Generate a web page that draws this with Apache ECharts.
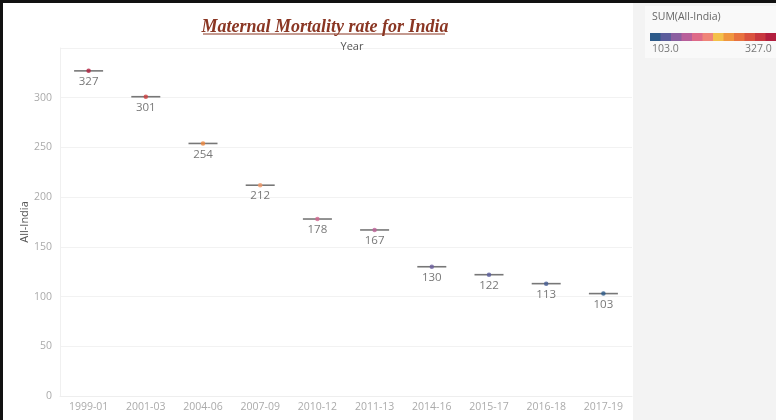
<!DOCTYPE html>
<html>
<head>
<meta charset="utf-8">
<script src="https://cdn.jsdelivr.net/npm/echarts@6/dist/echarts.min.js"></script>
<style>
html,body{margin:0;padding:0;background:#fff;}
#c{width:776px;height:420px;}
</style>
</head>
<body>
<div id="c"></div>
<script>
const categories = ['1999-01','2001-03','2004-06','2007-09','2010-12','2011-13','2014-16','2015-17','2016-18','2017-19'];
const values = [327, 301, 254, 212, 178, 167, 130, 122, 113, 103];
const yTicks = {min: 0, max: 350, interval: 50};
const legendRange = {min: 103, max: 327};
const palette = ['#2c5a89','#5c5d9c','#8b5fa0','#b85f9a','#de6a88','#ef8478','#f4c04a','#f0963f','#e8723f','#da533f','#c8383f','#b21f3f'];

const chart = echarts.init(document.getElementById('c'), null, {renderer: 'canvas'});

const legendX = 650, legendY = 33, legendW = 126, legendH = 8;
const legendRects = palette.map((c, i) => ({
  type: 'rect',
  left: legendX + i * legendW / palette.length, top: legendY,
  shape: {width: legendW / palette.length + 0.5, height: legendH},
  style: {fill: c}, z: 5
}));

chart.setOption({
  animation: false,
  backgroundColor: '#ffffff',
  textStyle: {fontFamily: 'Open Sans, Noto Sans, sans-serif'},
  title: [{
    text: 'Maternal Mortality rate for India',
    left: 320, top: 13, textAlign: 'center',
    textStyle: {fontFamily: 'Liberation Serif', fontStyle: 'italic', fontWeight: 'bold', fontSize: 18, color: '#8a3623'}
  }, {
    text: 'Year', left: 347, top: 36, textAlign: 'center',
    textStyle: {fontSize: 11, fontWeight: 'normal', color: '#555'}
  }],
  grid: {left: 60, right: 144, top: 48, bottom: 24, show: false},
  xAxis: {
    type: 'category', data: categories,
    axisLine: {show: true, lineStyle: {color: '#eeeeee'}},
    axisTick: {show: false},
    axisLabel: {color: '#ababab', fontSize: 10.5, margin: 6},
    splitLine: {show: false}
  },
  yAxis: {
    type: 'value', min: yTicks.min, max: yTicks.max, interval: yTicks.interval,
    name: 'All-India', nameLocation: 'middle', nameGap: 30, nameRotate: 90,
    nameMoveOverlap: false,
    nameTextStyle: {color: '#555', fontSize: 11},
    axisLine: {show: true, lineStyle: {color: '#f0f0f0'}},
    axisTick: {show: false},
    axisLabel: {color: '#ababab', fontSize: 10.5, margin: 8, showMaxLabel: false},
    splitLine: {show: true, lineStyle: {color: '#f2f2f2'}}
  },
  visualMap: {
    type: 'continuous', min: legendRange.min, max: legendRange.max, seriesIndex: 1, dimension: 1,
    show: false,
    inRange: {color: palette}
  },
  graphic: [
    {type: 'rect', left: 633, top: 0, shape: {width: 143, height: 420}, style: {fill: '#f3f3f3'}, z: -10},
    {type: 'rect', left: 645, top: 6, shape: {width: 131, height: 52}, style: {fill: '#f9f9f9'}, z: -9},
    {type: 'text', left: 652, top: 12, style: {text: 'SUM(All-India)', fill: '#666', fontSize: 10.5, fontFamily: 'Open Sans'}},
    {type: 'text', left: 652, top: 44, style: {text: legendRange.min.toFixed(1), fill: '#777', fontSize: 10.5, fontFamily: 'Open Sans'}},
    {type: 'text', left: 745, top: 44, style: {text: legendRange.max.toFixed(1), fill: '#777', fontSize: 10.5, fontFamily: 'Open Sans'}},
    {type: 'line', shape: {x1: 203, y1: 34, x2: 445, y2: 34}, style: {stroke: '#8a3623', lineWidth: 1.2}, z: 10},
    {type: 'rect', left: 0, top: 0, shape: {width: 776, height: 3}, style: {fill: '#111'}, z: 100},
    {type: 'rect', left: 0, top: 0, shape: {width: 3, height: 420}, style: {fill: '#111'}, z: 100}
  ].concat(legendRects),
  series: [{
    type: 'scatter', data: values, symbol: 'rect', symbolSize: [29, 1.6],
    itemStyle: {color: '#555'},
    label: {show: true, position: 'bottom', distance: 4, color: '#555', fontSize: 11.5},
    z: 2
  }, {
    type: 'scatter', data: values, symbol: 'circle', symbolSize: 4.5,
    z: 3
  }]
});
</script>
</body>
</html>
